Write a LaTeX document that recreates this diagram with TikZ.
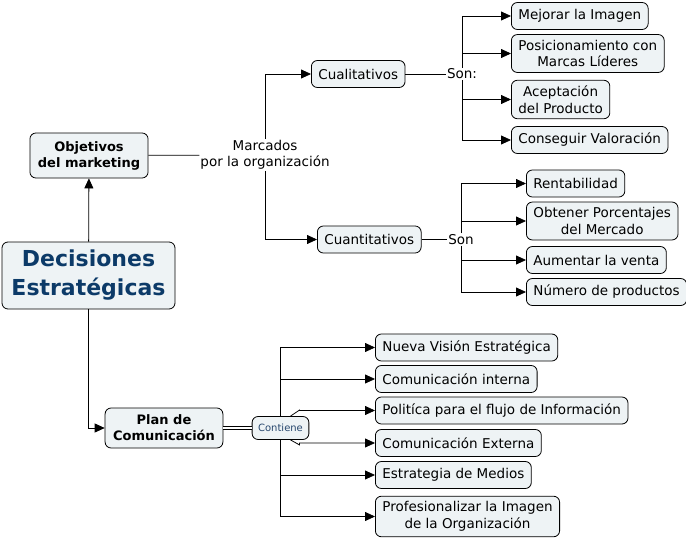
\documentclass[tikz,border=0pt]{standalone}
\usepackage{fontspec}
\setmainfont{DejaVu Sans}
\usepackage{tikz}
\usetikzlibrary{arrows.meta, positioning, calc}
\definecolor{mapfill}{RGB}{238, 243, 245}
\definecolor{mapnavy}{RGB}{12, 58, 104}
\definecolor{mapblue}{RGB}{40, 72, 110}

\begin{document}
\begin{tikzpicture}[
    x=1pt, y=-1pt,
    box/.style={rectangle, rounded corners=6pt, draw=black, line width=0.8pt, fill=mapfill, inner xsep=7pt, inner ysep=5.5pt, minimum height=27pt, align=center},
    title/.style={box, font=\bfseries\fontsize{13}{16}\selectfont, inner xsep=8pt},
    lbl/.style={fill=white, inner sep=1pt, align=center},
    arr/.style={-{Triangle[length=10pt, width=9pt]}, line width=0.8pt},
    con/.style={line width=0.8pt},
    every node/.style={font=\fontsize{13.5}{16.5}\selectfont}
]
\useasboundingbox (0,0) rectangle (686,541);

% Main concept and its two branches
\node[box, font=\bfseries\fontsize{22}{29}\selectfont, text=mapnavy, inner xsep=5pt, minimum width=173pt, minimum height=67pt] (dec) at (88.5,275.5) {Decisiones\\Estratégicas};
\node[title, minimum width=116pt, minimum height=45pt] (obj) at (89,155.5) {Objetivos\\del marketing};
\node[title, minimum width=116pt, minimum height=40pt] (plan) at (164,428) {Plan de\\Comunicación};
\draw[arr] (dec) -- (obj);
\draw[arr] (dec.south) |- (plan);

% Objetivos -> cualitativos / cuantitativos
\node[lbl] (mk) at (265,155) {Marcados\\por la organización};
\node[box, anchor=west] (cual) at (311,74) {Cualitativos};
\node[box, anchor=west] (cuan) at (317,239.5) {Cuantitativos};
\draw[con] (obj) -- (mk);
\draw[arr] (mk.north) |- (cual);
\draw[arr] (mk.south) |- (cuan);

% Cualitativos
\node[lbl] (son1) at (462,74) {Son:};
\node[box, anchor=west] (mej) at (511,16) {Mejorar la Imagen};
\node[box, anchor=west] (pos) at (511,53.5) {Posicionamiento con\\Marcas Líderes};
\node[box, anchor=west] (acep) at (511,99.5) {Aceptación\\del Producto};
\node[box, anchor=west] (cons) at (511,140) {Conseguir Valoración};
\draw[con] (cual) -- (son1);
\draw[arr] (son1.north) |- (mej);
\draw[arr] (son1.north) |- (pos);
\draw[arr] (son1.south) |- (acep);
\draw[arr] (son1.south) |- (cons);

% Cuantitativos
\node[lbl] (son2) at (461,239.5) {Son};
\node[box, anchor=west] (rent) at (526,183.5) {Rentabilidad};
\node[box, anchor=west] (obt) at (526,221) {Obtener Porcentajes\\del Mercado};
\node[box, anchor=west] (aum) at (526,260) {Aumentar la venta};
\node[box, anchor=west] (num) at (526,292) {Número de productos};
\draw[con] (cuan) -- (son2);
\draw[arr] (son2.north) |- (rent);
\draw[arr] (son2.north) |- (obt);
\draw[arr] (son2.south) |- (aum);
\draw[arr] (son2.south) |- (num);

% Plan de comunicacion
\node[box, font=\fontsize{10}{12}\selectfont, text=mapblue, inner xsep=6pt, minimum height=23pt] (cont) at (280.5,428) {Contiene};
\node[box, anchor=west] (nue) at (375,347.5) {Nueva Visión Estratégica};
\node[box, anchor=west] (ci) at (375,379) {Comunicación interna};
\node[box, anchor=west] (pol) at (375,410.5) {Politíca para el flujo de Información};
\node[box, anchor=west] (ce) at (375,443) {Comunicación Externa};
\node[box, anchor=west] (est) at (375,475) {Estrategia de Medios};
\node[box, anchor=west] (prof) at (375,516.5) {Profesionalizar la Imagen\\de la Organización};
\draw[double, double distance=2pt, line width=0.7pt] (plan) -- (cont);
\draw[arr] (cont.north) |- (nue);
\draw[arr] (cont.north) |- (ci);
\draw[arr] (cont.50) -- ++(9,-6) |- (pol);
\draw[arr] (cont.-50) -- ++(9,5) |- (ce);
\draw[arr] (cont.south) |- (est);
\draw[arr] (cont.south) |- (prof);

\end{tikzpicture}
\end{document}
